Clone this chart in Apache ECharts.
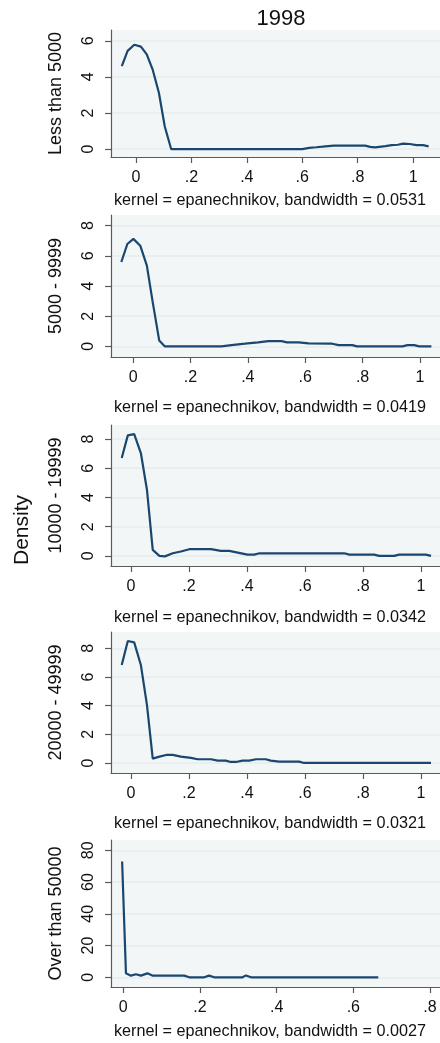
<!DOCTYPE html>
<html><head><meta charset="utf-8">
<script src="https://cdn.jsdelivr.net/npm/echarts@6/dist/echarts.min.js"></script>
<style>html,body{margin:0;padding:0;background:#fff}#c{width:440px;height:1043px}</style>
</head><body><div id="c"></div>
<script>
const titleText = '1998';
const yAxisTitle = 'Density';
const groups = ['Less than 5000', '5000 - 9999', '10000 - 19999', '20000 - 49999', 'Over than 50000'];
const bandwidths = ['0.0531', '0.0419', '0.0342', '0.0321', '0.0027'];
const xTicksA = [0, 0.2, 0.4, 0.6, 0.8, 1];
const xTicksB = [0, 0.2, 0.4, 0.6, 0.8];
const yTicks1 = [0, 2, 4, 6];
const yTicks2 = [0, 2, 4, 6, 8];
const yTicks5 = [0, 20, 40, 60, 80];
const xRanges = [[-0.09, 1.097], [-0.077, 1.07], [-0.069, 1.066], [-0.069, 1.066], [-0.032, 0.826]];
const yRanges = [[-0.44, 6.6], [-0.7, 8.7], [-0.69, 8.96], [-0.7, 9.14], [-6.1, 86.5]];

const dens1 = [[-0.051,4.6],[-0.03,5.44],[-0.006,5.78],[0.018,5.68],[0.039,5.25],[0.06,4.42],[0.083,3.11],[0.104,1.25],[0.127,0],[0.6,0],[0.625,0.07],[0.65,0.1],[0.673,0.13],[0.714,0.19],[0.827,0.19],[0.845,0.12],[0.863,0.09],[0.9,0.16],[0.923,0.22],[0.945,0.24],[0.964,0.3],[0.988,0.28],[1.012,0.22],[1.036,0.22],[1.056,0.15]];
const dens2 = [[-0.041,5.59],[-0.02,6.78],[0.001,7.12],[0.025,6.67],[0.048,5.35],[0.068,2.98],[0.091,0.4],[0.111,0],[0.308,0],[0.343,0.09],[0.39,0.18],[0.436,0.27],[0.471,0.35],[0.518,0.35],[0.536,0.27],[0.577,0.27],[0.612,0.2],[0.694,0.18],[0.717,0.09],[0.764,0.09],[0.781,0],[0.939,0],[0.957,0.09],[0.98,0.09],[0.998,0],[1.04,0]];
const dens3 = [[-0.032,6.7],[-0.011,8.25],[0.011,8.34],[0.034,7.04],[0.055,4.53],[0.075,0.41],[0.098,0],[0.117,-0.03],[0.144,0.18],[0.172,0.3],[0.201,0.46],[0.276,0.46],[0.31,0.34],[0.339,0.34],[0.368,0.23],[0.402,0.09],[0.425,0.09],[0.443,0.18],[0.736,0.18],[0.753,0.09],[0.839,0.09],[0.856,0],[0.908,0],[0.925,0.09],[1.017,0.09],[1.035,0]];
const dens4 = [[-0.032,6.84],[-0.011,8.51],[0.011,8.42],[0.034,6.84],[0.055,4.05],[0.075,0.3],[0.098,0.44],[0.121,0.56],[0.144,0.56],[0.172,0.44],[0.207,0.35],[0.23,0.26],[0.276,0.26],[0.299,0.16],[0.327,0.16],[0.344,0.07],[0.362,0.07],[0.385,0.16],[0.408,0.16],[0.431,0.26],[0.465,0.26],[0.482,0.16],[0.511,0.09],[0.58,0.09],[0.597,0],[1.035,0]];
const dens5 = [[-0.003,73],[0.007,2.5],[0.02,1.05],[0.033,1.9],[0.046,1.05],[0.063,2.5],[0.077,1.05],[0.159,1.05],[0.172,0],[0.211,0],[0.224,1.05],[0.237,0],[0.311,0],[0.32,1.2],[0.333,0],[0.665,0]];

const allDens = [dens1, dens2, dens3, dens4, dens5];
const allXTicks = [xTicksA, xTicksA, xTicksA, xTicksA, xTicksB];
const allYTicks = [yTicks1, yTicks2, yTicks2, yTicks2, yTicks5];

// layout (pixels)
const gridBoxes = [[30,127],[215,142],[425,141],[632,141],[840,147]];
const captionY = [202, 409, 619, 825, 1033];
const FONT = '"Liberation Sans", Arial, sans-serif';
const LINE = '#1a476f';
const AXIS = '#5a5a5a';
const fmtX = v => { if (Math.abs(v) < 1e-9) return '0'; const s = (+v.toFixed(2)).toString(); return s.replace(/^0\./, '.'); };

const grids = [], xAxes = [], yAxes = [], series = [], graphics = [];
for (let i = 0; i < 5; i++) {
  grids.push({ left: 111, top: gridBoxes[i][0], width: 329, height: gridBoxes[i][1], show: true, backgroundColor: '#f3f6f7', borderWidth: 0, containLabel: false });
  xAxes.push({
    type: 'value', gridIndex: i, min: xRanges[i][0], max: xRanges[i][1],
    axisLine: { show: true, onZero: false, lineStyle: { color: AXIS, width: 1.2 } },
    axisTick: { show: true, length: 6, customValues: allXTicks[i], lineStyle: { color: AXIS, width: 1.2 } },
    axisLabel: { customValues: allXTicks[i], formatter: fmtX, margin: 13, fontSize: 16, color: '#111', fontFamily: FONT },
    splitLine: { show: false }
  });
  yAxes.push({
    type: 'value', gridIndex: i, min: yRanges[i][0], max: yRanges[i][1],
    name: groups[i], nameLocation: 'middle', nameRotate: 90, nameGap: 46,
    nameTextStyle: { fontSize: 18, color: '#111', fontFamily: FONT },
    axisLine: { show: true, onZero: false, lineStyle: { color: AXIS, width: 1.2 } },
    axisTick: { show: true, length: 6, customValues: allYTicks[i], lineStyle: { color: AXIS, width: 1.2 } },
    axisLabel: { customValues: allYTicks[i], rotate: 90, margin: 14, fontSize: 16, color: '#111', fontFamily: FONT },
    splitLine: { show: true, lineStyle: { color: '#e6edef', width: 1.5 } }
  });
  series.push({ type: 'line', xAxisIndex: i, yAxisIndex: i, data: allDens[i], showSymbol: false, symbol: 'none', smooth: false,
    lineStyle: { color: LINE, width: 2.2 }, silent: true, animation: false });
  graphics.push({ type: 'text', left: 114, top: captionY[i] - 9, style: { text: 'kernel = epanechnikov, bandwidth = ' + bandwidths[i], font: '16.2px ' + FONT, fill: '#111' } });
}
graphics.push({ type: 'text', x: 22, y: 530, rotation: Math.PI / 2, style: { text: yAxisTitle, font: '21px ' + FONT, fill: '#111', align: 'center', verticalAlign: 'middle' } });

const chart = echarts.init(document.getElementById('c'), null, { renderer: 'canvas' });
chart.setOption({
  animation: false,
  backgroundColor: '#ffffff',
  title: { text: titleText, left: 276, top: 3, textAlign: 'center', textStyle: { fontSize: 22, fontWeight: 'normal', color: '#111', fontFamily: FONT } },
  grid: grids, xAxis: xAxes, yAxis: yAxes, series: series, graphic: graphics
});
</script></body></html>
